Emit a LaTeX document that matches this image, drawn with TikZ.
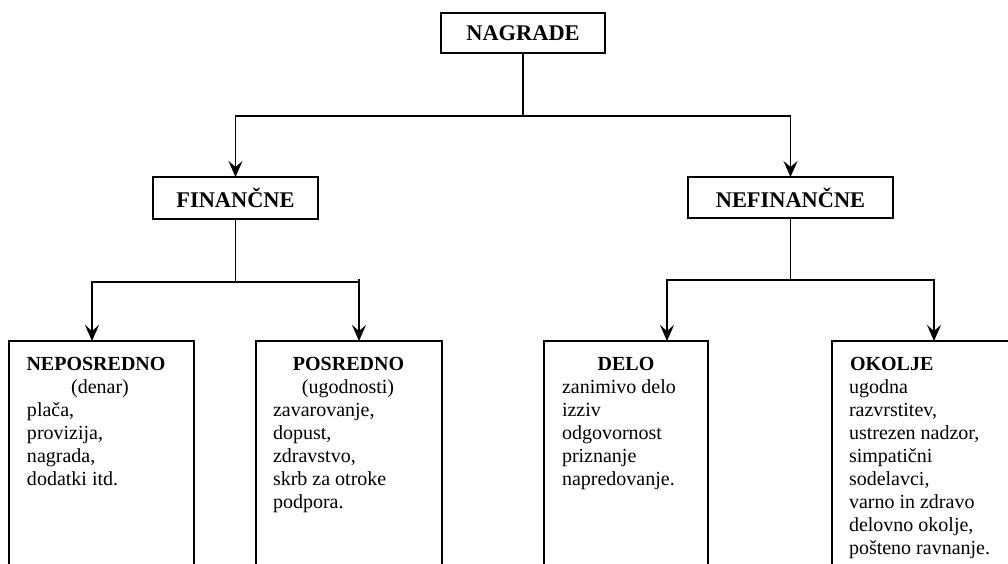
\documentclass[tikz,border=0pt]{standalone}
\usepackage{fontspec}
\setmainfont{Liberation Serif}
\usetikzlibrary{arrows.meta}
\begin{document}
\begin{tikzpicture}[x=1pt,y=-1pt,
  every node/.style={inner sep=0pt, outer sep=0pt},
  link/.style={line width=1.8pt},
  arr/.style={link, -{Stealth[length=16pt,width=14pt,inset=6pt]}},
  headbox/.style={draw, line width=1.8pt, font=\fontsize{22.4}{26}\selectfont\bfseries},
  itembox/.style={draw, line width=1.8pt, anchor=north, minimum height=240pt},
  body/.style={anchor=base west, font=\fontsize{20}{23}\selectfont},
  sub/.style={anchor=base, font=\fontsize{20}{23}\selectfont},
  title/.style={anchor=base, font=\fontsize{20}{23}\selectfont\bfseries},
]
\clip (0,0) rectangle (1008,564);
\fill[white] (0,0) rectangle (1008,564);

% top levels
\node[headbox, minimum width=164pt, minimum height=40pt] (nagrade) at (523,33) {NAGRADE};
\node[headbox, minimum width=165pt, minimum height=42pt] (fin) at (235.5,198) {FINANČNE};
\node[headbox, minimum width=205pt, minimum height=41pt] (nefin) at (790.5,197.5) {NEFINANČNE};

% leaf boxes (open at the bottom edge)
\node[itembox, minimum width=185pt] (nepo) at (101.5,341) {};
\node[itembox, minimum width=186pt] (posr) at (349,341) {};
\node[itembox, minimum width=164pt] (delo) at (626,341) {};
\node[itembox, minimum width=204pt] (okol) at (934,341) {};

% connectors from the root
\coordinate (rail) at (523,116);
\draw[arr] (nagrade.south) -- (rail) -| (fin.north);
\draw[arr] (rail) -| (nefin.north);

% financial branch
\coordinate (frail) at (235.5,282);
\coordinate (fl) at (92,282);
\coordinate (fr) at (359,282);
\coordinate (frtop) at (359,279);
\draw[arr] (fin.south) -- (frail) -| (nepo.north -| fl);
\draw[link] (frail) -- (fr);
\draw[arr] (frtop) -- (posr.north -| fr);

% non-financial branch
\coordinate (nrail) at (790.5,280);
\coordinate (nl) at (667,280);
\draw[arr] (nefin.south) -- (nrail) -| (delo.north -| nl);
\draw[arr] (nrail) -| (okol.north);

% leaf texts
\node[title] (nepoT) at (96,370) {NEPOSREDNO};
\node[sub] (nepoS) at (100,393) {(denar)};
\node[body] (nepoB) at (27,416) {\vtop{\hbox{plača,}\hbox{provizija,}\hbox{nagrada,}\hbox{dodatki itd.}}};

\node[title] (posrT) at (348.5,370) {POSREDNO};
\node[sub] (posrS) at (348,393) {(ugodnosti)};
\node[body] (posrB) at (273,416) {\vtop{\hbox{zavarovanje,}\hbox{dopust,}\hbox{zdravstvo,}\hbox{skrb za otroke}\hbox{podpora.}}};

\node[title] (deloT) at (626,370) {DELO};
\node[body] (deloB) at (562,393) {\vtop{\hbox{zanimivo delo}\hbox{izziv}\hbox{odgovornost}\hbox{priznanje}\hbox{napredovanje.}}};

\node[title, anchor=base west] (okolT) at (850,370) {OKOLJE};
\node[body] (okolB) at (849,393) {\vtop{\hbox{ugodna}\hbox{razvrstitev,}\hbox{ustrezen nadzor,}\hbox{simpatični}\hbox{sodelavci,}\hbox{varno in zdravo}\hbox{delovno okolje,}\hbox{pošteno ravnanje.}}};
\end{tikzpicture}
\end{document}
